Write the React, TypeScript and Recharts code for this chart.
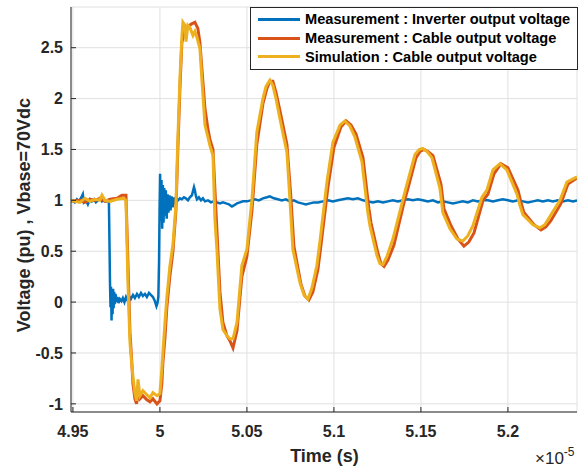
import React from 'react';
import { LineChart, Line, XAxis, YAxis, CartesianGrid, Legend } from 'recharts';

// time axis in units of 1e-5 s
const xTicks = [4.95, 5, 5.05, 5.1, 5.15, 5.2];
const yTicks = [-1, -0.5, 0, 0.5, 1, 1.5, 2, 2.5];
const xDomain = [4.9489, 5.2397];
const yDomain = [-1.08, 2.9];

const seriesNames = [
  'Measurement : Inverter output voltage',
  'Measurement : Cable output voltage',
  'Simulation : Cable output voltage',
];
const seriesColors = ['#0072BD', '#D95319', '#EDB120'];

const inverterPts: [number, number][] = [
  [4.9489, 0.99], [4.95, 1.0], [4.9511, 0.98], [4.9523, 1.01], [4.9534, 0.99], [4.9546, 1.02], [4.9557, 1.06],
  [4.9563, 0.98], [4.9575, 1.0], [4.9586, 0.96], [4.9598, 1.01], [4.9609, 0.99], [4.9621, 1.01], [4.9632, 0.98],
  [4.9644, 1.0], [4.9655, 1.02], [4.9667, 0.99], [4.9678, 1.01], [4.969, 0.99], [4.9701, 1.0], [4.9707, 0.97],
  [4.971, 0.6], [4.9713, 0.2], [4.9716, -0.05], [4.9719, 0.15], [4.9722, -0.18], [4.9725, 0.1], [4.9728, -0.12],
  [4.9731, 0.13], [4.9734, -0.06], [4.9737, 0.1], [4.9741, -0.02], [4.9745, 0.08], [4.975, 0.0], [4.9756, 0.05],
  [4.9762, -0.01], [4.977, 0.03], [4.9779, 0.01], [4.9787, 0.04], [4.9796, 0.0], [4.9805, 0.05], [4.9813, 0.02],
  [4.9822, 0.06], [4.9833, 0.03], [4.9845, 0.07], [4.9856, 0.04], [4.9868, 0.08], [4.9879, 0.05], [4.9891, 0.09],
  [4.9902, 0.06], [4.9914, 0.08], [4.9925, 0.05], [4.9937, 0.09], [4.9948, 0.07], [4.996, 0.05], [4.9971, 0.01],
  [4.998, -0.04], [4.9986, -0.01], [4.9991, 0.05], [4.9995, 0.4], [4.9998, 0.9], [5.0001, 1.26], [5.0005, 0.8],
  [5.0009, 1.2], [5.0013, 0.72], [5.0017, 1.15], [5.0021, 0.78], [5.0025, 1.12], [5.0029, 0.85], [5.0034, 1.1],
  [5.0039, 0.82], [5.0044, 1.06], [5.0049, 0.88], [5.0055, 1.05], [5.0061, 0.9], [5.0067, 1.04], [5.0073, 0.93],
  [5.008, 1.03], [5.0086, 0.96], [5.0092, 1.02], [5.0103, 1.0], [5.0115, 1.02], [5.0126, 1.01], [5.0138, 1.03],
  [5.0149, 1.02], [5.0161, 1.0], [5.0172, 1.03], [5.0184, 1.05], [5.019, 1.09], [5.0196, 1.13], [5.0201, 1.1],
  [5.0207, 1.04], [5.0213, 1.01], [5.0224, 1.03], [5.0236, 1.0], [5.0247, 1.02], [5.0259, 0.99], [5.0276, 1.0],
  [5.0293, 0.98], [5.031, 0.99], [5.0328, 0.98], [5.0345, 0.97], [5.0362, 0.98], [5.038, 0.97], [5.0397, 0.96],
  [5.0414, 0.94], [5.0425, 0.95], [5.0443, 0.97], [5.046, 0.98], [5.0477, 0.99], [5.05, 0.99], [5.0523, 1.0],
  [5.0546, 1.01], [5.0569, 1.0], [5.0592, 1.02], [5.0615, 1.03], [5.0632, 1.04], [5.0655, 1.02], [5.0678, 1.01],
  [5.0701, 1.0], [5.0724, 1.01], [5.0747, 0.99], [5.077, 1.0], [5.0793, 0.98], [5.0816, 0.97], [5.0839, 0.96],
  [5.0862, 0.97], [5.0885, 0.98], [5.0908, 0.98], [5.0937, 0.99], [5.0966, 1.0], [5.0994, 0.99], [5.1023, 1.0],
  [5.1052, 1.01], [5.108, 1.02], [5.1109, 1.01], [5.1138, 1.02], [5.1167, 1.0], [5.1195, 0.99], [5.1224, 0.98],
  [5.1253, 0.99], [5.1282, 0.98], [5.131, 0.99], [5.1339, 1.0], [5.1368, 0.99], [5.1397, 1.0], [5.1425, 1.01],
  [5.1454, 1.0], [5.1483, 1.01], [5.1511, 1.0], [5.154, 0.99], [5.1569, 1.0], [5.1598, 0.98], [5.1626, 0.99],
  [5.1655, 0.98], [5.1684, 0.97], [5.1713, 0.98], [5.1741, 0.99], [5.177, 0.98], [5.1799, 1.0], [5.1828, 0.99],
  [5.1856, 1.0], [5.1885, 1.0], [5.1914, 0.99], [5.1943, 1.0], [5.1971, 1.01], [5.2, 1.0], [5.2029, 0.99],
  [5.2057, 1.0], [5.2086, 0.99], [5.2115, 0.98], [5.2144, 0.99], [5.2172, 1.0], [5.2201, 0.99], [5.223, 1.0],
  [5.2259, 0.99], [5.2287, 1.0], [5.2316, 0.99], [5.2345, 1.0], [5.2374, 0.99], [5.2397, 1.0],
];

const cablePts: [number, number][] = [
  [4.9489, 0.99], [4.954, 1.0], [4.9569, 0.98], [4.9598, 1.01], [4.9626, 1.0], [4.9655, 1.02], [4.9684, 0.99],
  [4.9713, 1.01], [4.9753, 1.02], [4.9782, 1.05], [4.9805, 1.05], [4.9816, 0.4], [4.9828, -0.3], [4.9837, -0.55],
  [4.9845, -0.8], [4.9856, -0.95], [4.9866, -1.0], [4.9874, -0.85], [4.9885, -0.95], [4.9902, -0.92], [4.9925, -0.96],
  [4.9943, -0.98], [4.996, -0.95], [4.9983, -1.0], [5.0, -0.97], [5.0011, -0.8], [5.0017, -0.6], [5.0029, -0.35],
  [5.004, -0.05], [5.0057, 0.25], [5.0075, 0.5], [5.0092, 0.9], [5.0103, 1.5], [5.0115, 2.1], [5.0126, 2.55],
  [5.0144, 2.68], [5.0161, 2.7], [5.0178, 2.73], [5.0201, 2.75], [5.0218, 2.69], [5.023, 2.55], [5.0241, 2.3],
  [5.0259, 1.9], [5.0276, 1.7], [5.0287, 1.6], [5.0305, 1.5], [5.0322, 0.9], [5.0345, 0.1], [5.0362, -0.2],
  [5.0385, -0.33], [5.0402, -0.38], [5.042, -0.45], [5.0443, -0.28], [5.0471, 0.25], [5.05, 0.45], [5.0529, 0.9],
  [5.0557, 1.55], [5.0592, 1.95], [5.0615, 2.1], [5.0632, 2.17], [5.0649, 2.17], [5.0667, 2.06], [5.069, 1.88],
  [5.073, 1.55], [5.0752, 1.05], [5.077, 0.55], [5.081, 0.18], [5.0833, 0.06], [5.0856, 0.02], [5.0879, 0.1],
  [5.0908, 0.32], [5.0925, 0.55], [5.0965, 1.12], [5.1, 1.52], [5.104, 1.72], [5.107, 1.78], [5.1098, 1.74],
  [5.1127, 1.65], [5.1167, 1.42], [5.1201, 0.92], [5.1213, 0.78], [5.1253, 0.48], [5.127, 0.38], [5.1288, 0.35],
  [5.131, 0.41], [5.1345, 0.56], [5.1403, 0.98], [5.1426, 1.12], [5.1472, 1.42], [5.1495, 1.48], [5.1517, 1.5],
  [5.154, 1.48], [5.1569, 1.44], [5.1615, 1.16], [5.1632, 0.92], [5.1673, 0.75], [5.1713, 0.62], [5.1747, 0.55],
  [5.1775, 0.59], [5.1805, 0.68], [5.1857, 1.0], [5.1885, 1.06], [5.192, 1.26], [5.196, 1.36], [5.2, 1.32],
  [5.2058, 1.1], [5.2075, 0.98], [5.2092, 0.88], [5.215, 0.76], [5.219, 0.71], [5.2218, 0.74], [5.2247, 0.8],
  [5.2305, 0.97], [5.2345, 1.16], [5.2397, 1.22],
];

const simPts: [number, number][] = [
  [4.9489, 1.0], [4.954, 0.98], [4.9569, 1.02], [4.9598, 0.99], [4.9626, 1.01], [4.9655, 1.0], [4.9667, 1.05],
  [4.9684, 1.0], [4.9713, 0.99], [4.9753, 1.01], [4.9793, 1.02], [4.9805, 1.0], [4.9816, 0.2], [4.9828, -0.4],
  [4.9837, -0.59], [4.9845, -0.73], [4.9856, -0.89], [4.9866, -0.97], [4.9874, -0.76], [4.9885, -0.92], [4.9902, -0.87],
  [4.9925, -0.91], [4.9943, -0.94], [4.996, -0.89], [4.9983, -0.92], [5.0, -0.9], [5.0011, -0.66], [5.0017, -0.5],
  [5.0029, -0.2], [5.004, 0.05], [5.0057, 0.35], [5.0075, 0.57], [5.0092, 0.95], [5.0103, 1.6], [5.0115, 2.2],
  [5.0126, 2.6], [5.0132, 2.75], [5.0144, 2.72], [5.015, 2.56], [5.0161, 2.72], [5.0172, 2.7], [5.019, 2.62],
  [5.0201, 2.66], [5.0213, 2.6], [5.023, 2.49], [5.0241, 2.19], [5.0259, 1.74], [5.0276, 1.62], [5.0287, 1.54],
  [5.0305, 1.44], [5.0316, 0.82], [5.0328, 0.5], [5.0345, -0.07], [5.0362, -0.27], [5.0385, -0.33], [5.0402, -0.36],
  [5.042, -0.36], [5.0443, -0.2], [5.0471, 0.36], [5.05, 0.52], [5.0529, 1.01], [5.0557, 1.67], [5.0592, 2.0],
  [5.061, 2.12], [5.0632, 2.18], [5.0649, 2.13], [5.0667, 2.0], [5.069, 1.8], [5.073, 1.47], [5.0747, 1.01],
  [5.0764, 0.52], [5.0805, 0.19], [5.0828, 0.07], [5.0851, 0.03], [5.0874, 0.14], [5.0902, 0.36], [5.092, 0.6],
  [5.096, 1.18], [5.0994, 1.57], [5.1035, 1.74], [5.1063, 1.78], [5.1092, 1.73], [5.1121, 1.62], [5.1161, 1.38],
  [5.1195, 0.88], [5.1207, 0.75], [5.1247, 0.46], [5.1264, 0.38], [5.1282, 0.37], [5.1305, 0.45], [5.1339, 0.62],
  [5.1397, 1.01], [5.142, 1.16], [5.1466, 1.45], [5.149, 1.5], [5.1511, 1.51], [5.1535, 1.48], [5.1563, 1.42],
  [5.1609, 1.12], [5.1626, 0.88], [5.1667, 0.72], [5.1707, 0.62], [5.1741, 0.6], [5.1769, 0.65], [5.1799, 0.75],
  [5.1851, 1.03], [5.1879, 1.1], [5.1914, 1.3], [5.1954, 1.36], [5.1994, 1.3], [5.2052, 1.06], [5.2069, 0.95],
  [5.2086, 0.86], [5.2144, 0.76], [5.2184, 0.73], [5.2212, 0.76], [5.2241, 0.84], [5.2299, 1.0], [5.2339, 1.18],
  [5.2397, 1.23],
];

const toRows = (pts: [number, number][]) => pts.map(([t, v]) => ({ t, v }));
const allSeries = [toRows(inverterPts), toRows(cablePts), toRows(simPts)];
const widths = [2.5, 3, 3];

const axisColor = '#262626';
const font = '"Liberation Sans", Arial, Helvetica, sans-serif';
const tickStyle = { fill: axisColor, fontSize: 16, fontWeight: 'bold' as const, fontFamily: font };

const renderLegend = () => (
  <div
    style={{
      width: 328,
      height: 63,
      boxSizing: 'border-box',
      border: '1px solid #262626',
      background: '#fff',
      paddingTop: 2,
      fontFamily: font,
    }}
  >
    {seriesNames.map((name, i) => (
      <div key={name} style={{ display: 'flex', alignItems: 'center', height: 18.8 }}>
        <span style={{ display: 'inline-block', width: 42, height: 3, marginLeft: 7, marginRight: 5, background: seriesColors[i] }} />
        <span style={{ fontWeight: 'bold', fontSize: 14.6, color: '#000', whiteSpace: 'nowrap' }}>{name}</span>
      </div>
    ))}
  </div>
);

const renderXLabel = () => (
  <g fontFamily={font}>
    <text x={324.5} y={462} textAnchor="middle" fontSize={18} fontWeight="bold" fill={axisColor}>
      Time (s)
    </text>
    <text x={535} y={464} fontSize={17} fill={axisColor}>
      ×10
      <tspan dy={-8} fontSize={12}>-5</tspan>
    </text>
  </g>
);

const renderYLabel = () => (
  <text
    x={23.5}
    y={215}
    transform="rotate(-90 23.5 215)"
    textAnchor="middle"
    dominantBaseline="central"
    fontSize={18}
    fontWeight="bold"
    fill={axisColor}
    fontFamily={font}
  >
    Voltage (pu) , Vbase=70Vdc
  </text>
);

export default function App() {
  return (
    <div style={{ position: 'absolute', left: 0, top: 0, width: 578, height: 468, background: '#fff' }}>
      <LineChart width={578} height={468} margin={{ top: 7, right: 1, bottom: 0, left: 0 }}>
        <CartesianGrid xAxisId="b" yAxisId="l" stroke="#e0e0e0" />
        <XAxis
          xAxisId="b"
          dataKey="t"
          type="number"
          domain={xDomain}
          ticks={xTicks}
          allowDataOverflow
          height={56}
          tickSize={-5}
          tickMargin={19}
          stroke={axisColor}
          tick={tickStyle}
          label={renderXLabel}
        />
        <XAxis
          xAxisId="t"
          orientation="top"
          dataKey="t"
          type="number"
          domain={xDomain}
          ticks={xTicks}
          allowDataOverflow
          height={0}
          tickSize={-5}
          tick={false}
          stroke={axisColor}
        />
        <YAxis
          yAxisId="l"
          type="number"
          domain={yDomain}
          ticks={yTicks}
          allowDataOverflow
          width={71}
          tickSize={-5}
          tickMargin={13}
          stroke={axisColor}
          tick={tickStyle}
          label={renderYLabel}
        />
        <YAxis
          yAxisId="r"
          orientation="right"
          type="number"
          domain={yDomain}
          ticks={yTicks}
          allowDataOverflow
          width={0}
          tickSize={-5}
          tick={false}
          stroke={axisColor}
        />
        {allSeries.map((rows, i) => (
          <Line
            key={seriesNames[i]}
            xAxisId="b"
            yAxisId="l"
            data={rows}
            dataKey="v"
            name={seriesNames[i]}
            type="linear"
            stroke={seriesColors[i]}
            strokeWidth={widths[i]}
            dot={false}
            activeDot={false}
            isAnimationActive={false}
          />
        ))}
        <Legend
          layout="horizontal"
          verticalAlign="middle"
          align="center"
          content={renderLegend}
          wrapperStyle={{ position: 'absolute', left: 250, top: 7, width: 328, height: 63 }}
        />
      </LineChart>
    </div>
  );
}
